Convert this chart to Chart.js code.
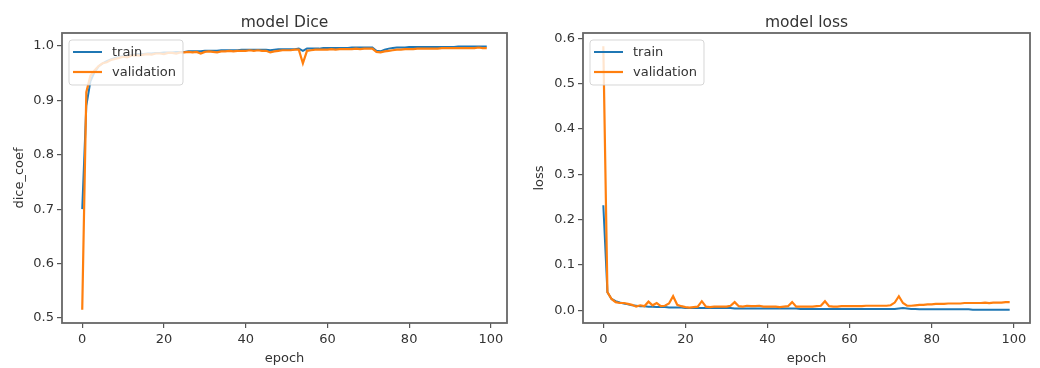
<!DOCTYPE html>
<html><head><meta charset="utf-8">
<script src="https://cdn.jsdelivr.net/npm/chart.js@4.4.1/dist/chart.umd.min.js"></script>
<style>
html,body{margin:0;padding:0;background:#fff;width:1040px;height:368px;overflow:hidden}
.wrap{position:absolute;top:0;width:520px;height:368px}
</style></head><body>
<div class="wrap" style="left:0"><canvas id="c1" width="520" height="368"></canvas></div>
<div class="wrap" style="left:520px"><canvas id="c2" width="520" height="368"></canvas></div>
<script>
const epochs = [0,1,2,3,4,5,6,7,8,9,10,11,12,13,14,15,16,17,18,19,20,21,22,23,24,25,26,27,28,29,30,31,32,33,34,35,36,37,38,39,40,41,42,43,44,45,46,47,48,49,50,51,52,53,54,55,56,57,58,59,60,61,62,63,64,65,66,67,68,69,70,71,72,73,74,75,76,77,78,79,80,81,82,83,84,85,86,87,88,89,90,91,92,93,94,95,96,97,98,99];

const diceTrain = [0.700,0.890,0.935,0.952,0.962,0.968,0.972,0.975,0.978,0.980,
 0.981,0.982,0.983,0.984,0.985,0.985,0.986,0.986,0.987,0.987,
 0.988,0.988,0.988,0.989,0.989,0.989,0.990,0.990,0.990,0.990,
 0.991,0.991,0.991,0.991,0.992,0.992,0.992,0.992,0.992,0.993,
 0.993,0.993,0.993,0.993,0.993,0.993,0.992,0.993,0.994,0.994,
 0.994,0.994,0.994,0.995,0.991,0.995,0.995,0.995,0.995,0.996,
 0.996,0.996,0.996,0.996,0.996,0.996,0.997,0.997,0.997,0.997,
 0.997,0.997,0.991,0.990,0.993,0.995,0.996,0.997,0.997,0.997,
 0.998,0.998,0.998,0.998,0.998,0.998,0.998,0.998,0.998,0.998,
 0.998,0.998,0.999,0.999,0.999,0.999,0.999,0.999,0.999,0.999];

const diceVal = [0.515,0.915,0.945,0.955,0.963,0.968,0.970,0.974,0.976,0.978,
 0.980,0.979,0.982,0.983,0.982,0.984,0.985,0.984,0.986,0.986,
 0.985,0.987,0.987,0.986,0.988,0.988,0.989,0.988,0.989,0.986,
 0.989,0.990,0.989,0.988,0.990,0.990,0.991,0.990,0.991,0.991,
 0.991,0.992,0.991,0.992,0.991,0.991,0.988,0.990,0.991,0.992,
 0.992,0.992,0.993,0.993,0.968,0.991,0.992,0.993,0.993,0.993,
 0.993,0.994,0.993,0.994,0.994,0.994,0.994,0.995,0.994,0.995,
 0.995,0.995,0.989,0.988,0.990,0.991,0.992,0.993,0.993,0.994,
 0.994,0.994,0.995,0.995,0.995,0.995,0.995,0.995,0.996,0.996,
 0.996,0.996,0.996,0.996,0.996,0.996,0.996,0.997,0.996,0.996];

const lossTrain = [0.232,0.040,0.025,0.020,0.017,0.015,0.013,0.011,0.010,0.009,
 0.009,0.008,0.008,0.007,0.007,0.007,0.006,0.006,0.006,0.006,
 0.005,0.005,0.005,0.005,0.005,0.005,0.005,0.005,0.005,0.005,
 0.005,0.005,0.004,0.004,0.004,0.004,0.004,0.004,0.004,0.004,
 0.004,0.004,0.004,0.004,0.004,0.004,0.004,0.004,0.003,0.003,
 0.003,0.003,0.003,0.003,0.003,0.003,0.003,0.003,0.003,0.003,
 0.003,0.003,0.003,0.003,0.003,0.003,0.003,0.003,0.003,0.003,
 0.003,0.003,0.004,0.005,0.004,0.003,0.003,0.002,0.002,0.002,
 0.002,0.002,0.002,0.002,0.002,0.002,0.002,0.002,0.002,0.002,
 0.001,0.001,0.001,0.001,0.001,0.001,0.001,0.001,0.001,0.001];

const lossVal = [0.583,0.040,0.025,0.018,0.016,0.016,0.014,0.012,0.008,0.011,
 0.009,0.019,0.011,0.016,0.009,0.010,0.015,0.031,0.012,0.009,
 0.007,0.006,0.007,0.008,0.020,0.008,0.007,0.008,0.008,0.008,
 0.008,0.010,0.018,0.009,0.008,0.010,0.009,0.009,0.010,0.008,
 0.008,0.008,0.008,0.007,0.008,0.009,0.018,0.008,0.008,0.008,
 0.008,0.008,0.009,0.010,0.020,0.009,0.008,0.008,0.009,0.009,
 0.009,0.009,0.009,0.009,0.010,0.010,0.010,0.010,0.010,0.010,
 0.011,0.017,0.031,0.016,0.010,0.010,0.011,0.012,0.012,0.013,
 0.013,0.014,0.014,0.014,0.015,0.015,0.015,0.015,0.016,0.016,
 0.016,0.016,0.016,0.017,0.016,0.017,0.017,0.017,0.018,0.018];

const xTicks = [0,20,40,60,80,100];
const diceTicks = [0.5,0.6,0.7,0.8,0.9,1.0];
const lossTicks = [0.0,0.1,0.2,0.3,0.4,0.5,0.6];
const seriesNames = ['train','validation'];
const colors = ['#1f77b4','#ff7f0e'];

const FONT = "'DejaVu Sans', sans-serif";
const TXT = '#333';

function decor(title) {
  return {
    id: 'mplDecor',
    afterDraw(chart) {
      const ctx = chart.ctx, a = chart.chartArea;
      ctx.save();
      // spines
      ctx.strokeStyle = '#666';
      ctx.lineWidth = 1.8;
      ctx.strokeRect(a.left, a.top, a.right - a.left, a.bottom - a.top);
      // legend
      const bx = a.left + 7, by = a.top + 7, bw = 114, bh = 45, r = 3;
      ctx.beginPath();
      ctx.moveTo(bx + r, by);
      ctx.arcTo(bx + bw, by, bx + bw, by + bh, r);
      ctx.arcTo(bx + bw, by + bh, bx, by + bh, r);
      ctx.arcTo(bx, by + bh, bx, by, r);
      ctx.arcTo(bx, by, bx + bw, by, r);
      ctx.closePath();
      ctx.fillStyle = 'rgba(255,255,255,0.8)';
      ctx.fill();
      ctx.strokeStyle = 'rgba(204,204,204,0.8)';
      ctx.lineWidth = 1;
      ctx.stroke();
      ctx.font = '13px ' + FONT;
      ctx.textBaseline = 'middle';
      ctx.textAlign = 'left';
      chart.data.datasets.forEach((ds) => {
        const idx = seriesNames.indexOf(ds.label);
        const y = by + 12 + idx * 20;
        ctx.strokeStyle = ds.borderColor;
        ctx.lineWidth = ds.borderWidth;
        ctx.beginPath();
        ctx.moveTo(bx + 4, y);
        ctx.lineTo(bx + 33, y);
        ctx.stroke();
        ctx.fillStyle = TXT;
        ctx.fillText(ds.label, bx + 43, y + 1);
      });
      // title
      ctx.font = '15.5px ' + FONT;
      ctx.textAlign = 'center';
      ctx.textBaseline = 'alphabetic';
      ctx.fillStyle = TXT;
      ctx.fillText(title, (a.left + a.right) / 2, 27);
      ctx.restore();
    }
  };
}

function makeChart(id, title, ylabel, train, val, yMin, yMax, yTicks, yWidth, padRight) {
  const pts = arr => epochs.map((e, i) => ({x: e, y: arr[i]}));
  return new Chart(document.getElementById(id), {
    type: 'line',
    data: {
      datasets: [
        {label: seriesNames[0], data: pts(train), borderColor: colors[0], backgroundColor: colors[0], borderWidth: 2, pointRadius: 0, tension: 0, order: 1},
        {label: seriesNames[1], data: pts(val), borderColor: colors[1], backgroundColor: colors[1], borderWidth: 2.2, pointRadius: 0, tension: 0, order: 0}
      ]
    },
    options: {
      responsive: false,
      animation: false,
      events: [],
      layout: {padding: {left: 0, right: padRight, top: 33, bottom: 0}},
      plugins: {legend: {display: false}, title: {display: false}, tooltip: {enabled: false}},
      scales: {
        x: {
          type: 'linear', min: -4.95, max: 103.95,
          afterBuildTicks: s => { s.ticks = xTicks.map(v => ({value: v})); },
          afterFit: s => { s.height = 45; },
          ticks: {font: {family: FONT, size: 13}, color: TXT, padding: 4, maxRotation: 0},
          grid: {display: true, drawOnChartArea: false, drawTicks: true, tickLength: 5, color: '#555', lineWidth: 1.2},
          border: {display: false},
          title: {display: true, text: 'epoch', font: {family: FONT, size: 13}, color: TXT, padding: {top: 0, bottom: 2}}
        },
        y: {
          type: 'linear', min: yMin, max: yMax,
          afterBuildTicks: s => { s.ticks = yTicks.map(v => ({value: v})); },
          afterFit: s => { s.width = yWidth; },
          ticks: {font: {family: FONT, size: 13}, color: TXT, padding: 3, callback: v => Number(v).toFixed(1)},
          grid: {display: true, drawOnChartArea: false, drawTicks: true, tickLength: 5, color: '#555', lineWidth: 1.2},
          border: {display: false},
          title: {display: true, text: ylabel, font: {family: FONT, size: 13}, color: TXT, padding: {top: 12, bottom: 0}}
        }
      }
    },
    plugins: [decor(title)]
  });
}

makeChart('c1', 'model Dice', 'dice_coef', diceTrain, diceVal, 0.4908, 1.0237, diceTicks, 62, 13);
makeChart('c2', 'model loss', 'loss', lossTrain, lossVal, -0.0281, 0.6121, lossTicks, 63, 10);
</script>
</body></html>
